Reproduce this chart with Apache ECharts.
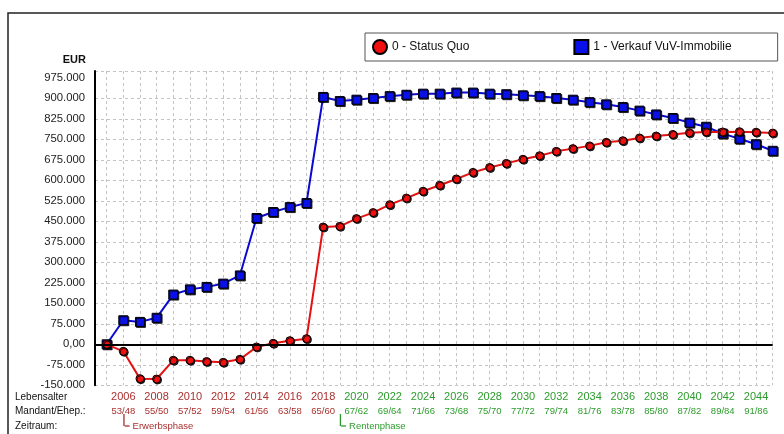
<!DOCTYPE html>
<html><head><meta charset="utf-8">
<script src="https://cdn.jsdelivr.net/npm/echarts@6/dist/echarts.min.js"></script>
<style>html,body{margin:0;padding:0;background:#fff}#c{width:784px;height:434px}</style>
</head><body><div id="c"></div>
<script>
const years = [2005,2006,2007,2008,2009,2010,2011,2012,2013,2014,2015,2016,2017,2018,2019,2020,2021,2022,2023,2024,2025,2026,2027,2028,2029,2030,2031,2032,2033,2034,2035,2036,2037,2038,2039,2040,2041,2042,2043,2044,2045];
const statusQuo = [0,-25600,-125600,-127000,-58500,-58500,-63000,-66000,-55000,-9800,3700,13400,20700,
  429000,431700,460000,482000,511000,535000,560000,582000,605000,629000,647000,662000,677000,
  690000,706000,716000,726000,739000,745000,755000,762000,768000,774000,777000,777000,778000,776000,773000];
const verkaufVuV = [0,88000,82000,97000,182000,201000,210000,222000,252000,462000,484000,502000,517000,
  905000,890000,895000,901000,908000,913000,917000,917000,921000,921000,917000,915000,911000,
  908000,901000,895000,886000,878000,868000,855000,841000,828000,811000,796000,771000,752000,732000,708000];
const seriesNames = ['0 - Status Quo','1 - Verkauf VuV-Immobilie'];
const yearTickLabels = [2006,2008,2010,2012,2014,2016,2018,2020,2022,2024,2026,2028,2030,2032,2034,2036,2038,2040,2042,2044];
const ageTickLabels = ['53/48','55/50','57/52','59/54','61/56','63/58','65/60','67/62','69/64','71/66','73/68','75/70','77/72','79/74','81/76','83/78','85/80','87/82','89/84','91/86'];
const phaseStartYears = [2006,2019];
const phaseNames = ['Erwerbsphase','Rentenphase'];
const rowLabels = ['Lebensalter','Mandant/Ehep.:','Zeitraum:'];
const yTickMin = -150000, yTickMax = 1000000, yTickStep = 75000;

const FONT = '"Liberation Sans", Arial, sans-serif';
const RED_TXT = '#a8302e', GRN_TXT = '#2c9c2c';
const GRID_C = '#c4c4c4';

function fmtDE(v){
  if (v === 0) return '0,00';
  const s = Math.abs(v).toString().replace(/\B(?=(\d{3})+(?!\d))/g, '.');
  return (v < 0 ? '-' : '') + s;
}
const pts = arr => years.map((y,i)=>[y, arr[i]]);

const nY = Math.round((yTickMax - yTickMin) / yTickStep);
const ySplitColors = [];
for (let i = 0; i <= nY; i++) ySplitColors.push(GRID_C);
ySplitColors[nY] = 'rgba(0,0,0,0)';

function phaseRich(p, color){
  const r = {};
  r[p + 'v'] = {width: 1.3, height: 12, backgroundColor: color, verticalAlign: 'top', lineHeight: 24};
  r[p + 'h'] = {width: 5, height: 1.3, backgroundColor: color, verticalAlign: 'middle', lineHeight: 24};
  r[p + 't'] = {color: color, fontSize: 9.5, lineHeight: 24, verticalAlign: 'middle', fontFamily: FONT, padding: [0,0,0,3]};
  return r;
}

const chart = echarts.init(document.getElementById('c'), null, {renderer:'canvas'});
const xBase = {
  type: 'value', min: 2004.3, max: 2045, minInterval: 1, maxInterval: 1, splitNumber: 41,
  axisLine: {show:false}, axisTick: {show:false}
};
chart.setOption({
  animation: false,
  textStyle: {fontFamily: FONT},
  grid: {left: 95, right: 11.3, top: 71, bottom: 48.7},
  legend: {
    left: 365, top: 33,
    padding: [6, 46, 6, 7],
    itemGap: 104, itemWidth: 14, itemHeight: 14,
    borderColor: '#555', borderWidth: 1,
    data: [{name: seriesNames[0], icon: 'circle'}, {name: seriesNames[1], icon: 'rect'}],
    formatter: n => n === seriesNames[0] ? '{a|' + n + '}' : '{b|' + n + '}',
    textStyle: {fontFamily: FONT, fontSize: 12, color: '#111',
      rich: {a: {width: 80, fontSize: 12, fontFamily: FONT, color: '#111'}, b: {fontSize: 12, fontFamily: FONT, color: '#111'}}}
  },
  xAxis: [
    Object.assign({}, xBase, {
      splitLine: {show: true, lineStyle: {color: GRID_C, type: [3,3], width: 1}},
      axisLabel: {
        margin: 6,
        formatter: v => {
          const i = yearTickLabels.indexOf(v);
          if (i < 0) return '';
          const p = v < phaseStartYears[1] ? 'r' : 'g';
          return '{' + p + '1|' + v + '}\n{' + p + '2|' + ageTickLabels[i] + '}';
        },
        rich: {
          r1: {color: RED_TXT, fontSize: 11, lineHeight: 12, fontFamily: FONT},
          r2: {color: RED_TXT, fontSize: 9.5, lineHeight: 16, fontFamily: FONT},
          g1: {color: GRN_TXT, fontSize: 11, lineHeight: 12, fontFamily: FONT},
          g2: {color: GRN_TXT, fontSize: 9.5, lineHeight: 16, fontFamily: FONT}
        }
      }
    }),
    Object.assign({}, xBase, {
      position: 'bottom', offset: 25,
      splitLine: {show: false},
      axisLabel: {
        margin: 3.7, align: 'left',
        formatter: v => {
          const i = phaseStartYears.indexOf(v);
          if (i < 0) return '';
          const p = i === 0 ? 'r' : 'g';
          return '{' + p + 'v| }{' + p + 'h| }{' + p + 't|' + phaseNames[i] + '}';
        },
        rich: Object.assign({}, phaseRich('r', RED_TXT), phaseRich('g', GRN_TXT))
      }
    })
  ],
  yAxis: {
    type: 'value', min: yTickMin, max: yTickMax, interval: yTickStep,
    name: 'EUR', nameLocation: 'end', nameGap: 6,
    nameTextStyle: {fontWeight: 'bold', fontSize: 11, color: '#111', align: 'right', padding: [0, 9, 0, 0], fontFamily: FONT},
    axisLine: {show: true, lineStyle: {color: '#000', width: 2}},
    axisTick: {show: false},
    axisLabel: {margin: 10, fontSize: 11.3, color: '#222', fontFamily: FONT,
      formatter: v => (v === yTickMax && yTickMax % yTickStep !== 0) ? '' : fmtDE(v)},
    splitLine: {show: true, lineStyle: {color: ySplitColors, type: [3,3], width: 1}}
  },
  series: [
    {
      name: seriesNames[1], type: 'line', data: pts(verkaufVuV), xAxisIndex: 0,
      symbol: 'rect', symbolSize: 9, z: 3,
      lineStyle: {color: '#0a0ad0', width: 2},
      itemStyle: {color: '#0a10e8', borderColor: '#000', borderWidth: 1,
        shadowColor: 'rgba(0,0,0,0.8)', shadowOffsetX: 1, shadowOffsetY: 1, shadowBlur: 0}
    },
    {
      name: seriesNames[0], type: 'line', data: pts(statusQuo), xAxisIndex: 0,
      symbol: 'circle', symbolSize: 8, z: 4,
      lineStyle: {color: '#e41212', width: 2},
      itemStyle: {color: '#f01010', borderColor: '#000', borderWidth: 1,
        shadowColor: 'rgba(0,0,0,0.8)', shadowOffsetX: 1, shadowOffsetY: 1, shadowBlur: 0},
      markLine: {silent: true, symbol: ['none','none'], label: {show: false},
        lineStyle: {color: '#000', width: 2, type: 'solid'}, data: [{yAxis: 0}]}
    }
  ],
  graphic: [
    {type: 'rect', shape: {x: 8, y: 13, width: 900, height: 600}, style: {fill: 'none', stroke: '#222', lineWidth: 1.5}, silent: true, z: 0},
    {type: 'text', left: 15, top: 392, style: {text: rowLabels[0], fontSize: 10, fill: '#111', fontFamily: FONT}},
    {type: 'text', left: 15, top: 406, style: {text: rowLabels[1], fontSize: 10, fill: '#111', fontFamily: FONT}},
    {type: 'text', left: 15, top: 421, style: {text: rowLabels[2], fontSize: 10, fill: '#111', fontFamily: FONT}}
  ]
});
</script></body></html>
